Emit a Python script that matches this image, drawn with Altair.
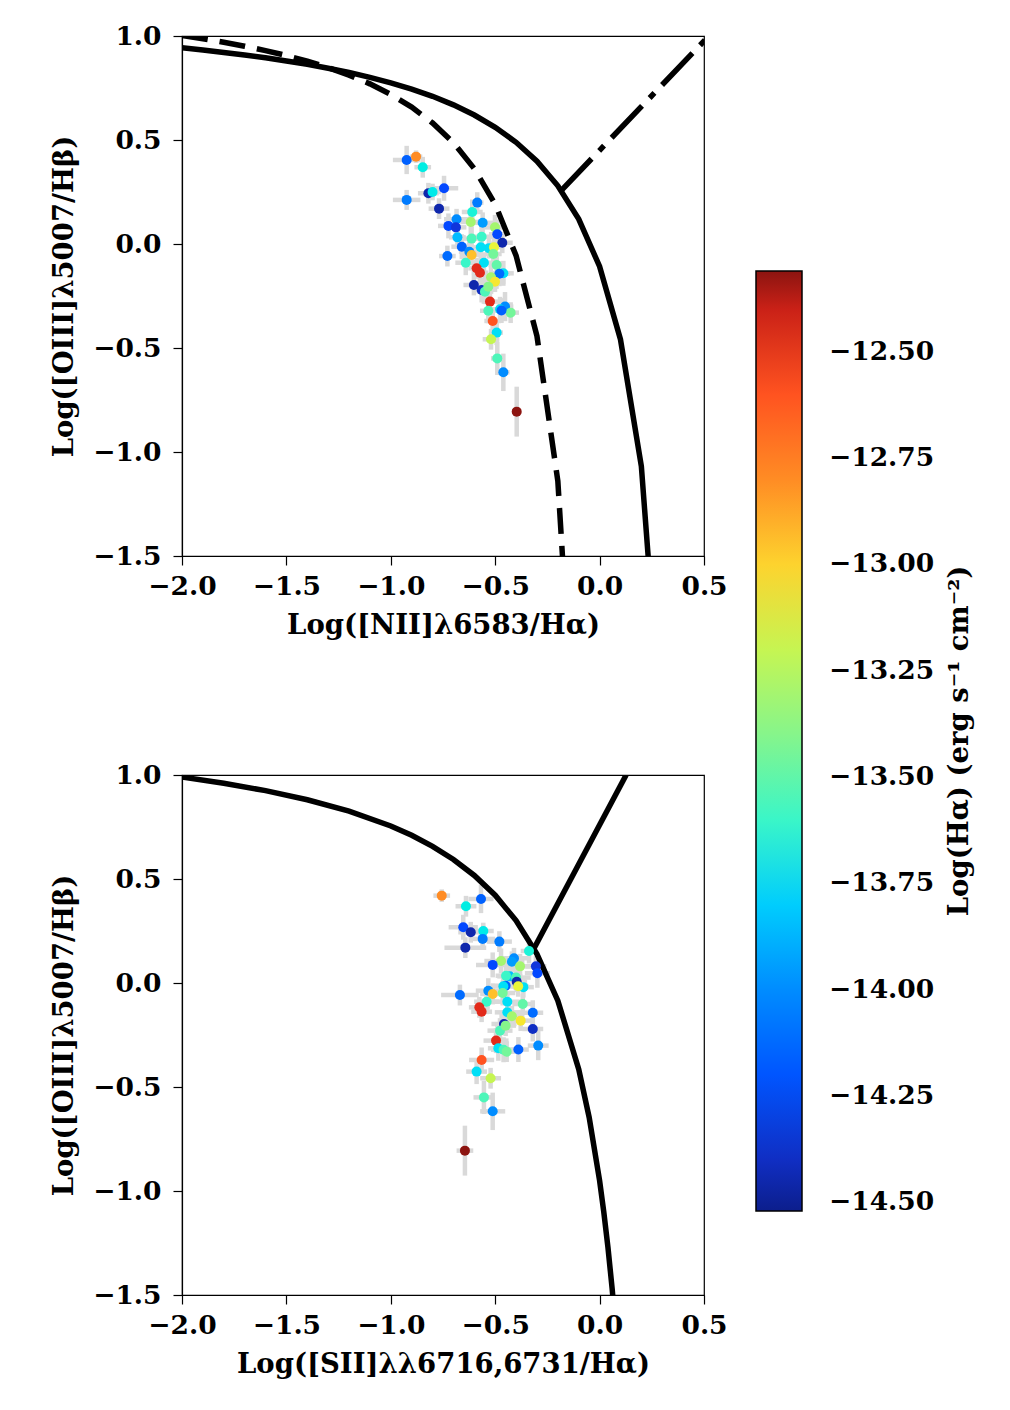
import altair as alt
import pandas as pd

# ---- data ----
nii = [-0.924, -0.879, -0.847, -0.745, -0.820, -0.800, -0.924, -0.769, -0.586, -0.610,
       -0.685, -0.617, -0.560, -0.724, -0.688, -0.501, -0.681, -0.613, -0.565, -0.490,
       -0.466, -0.660, -0.569, -0.530, -0.506, -0.729, -0.624, -0.613, -0.509, -0.641,
       -0.554, -0.493, -0.589, -0.573, -0.461, -0.480, -0.520, -0.501, -0.602, -0.565,
       -0.549, -0.533, -0.525, -0.453, -0.477, -0.533, -0.426, -0.470, -0.512, -0.493,
       -0.520, -0.490, -0.461, -0.397]
oiii = [0.404, 0.420, 0.369, 0.268, 0.244, 0.250, 0.212, 0.170, 0.199, 0.154,
        0.119, 0.106, 0.102, 0.087, 0.080, 0.080, 0.032, 0.026, 0.035, 0.047,
        0.006, -0.013, -0.016, -0.020, -0.016, -0.058, -0.037, -0.053, -0.048, -0.090,
        -0.090, -0.101, -0.117, -0.138, -0.141, -0.143, -0.160, -0.181, -0.197, -0.221,
        -0.229, -0.205, -0.277, -0.301, -0.314, -0.321, -0.330, -0.320, -0.370, -0.426,
        -0.458, -0.550, -0.617, -0.806]
sii = [-0.568, -0.756, -0.640, -0.653, -0.617, -0.557, -0.560, -0.643, -0.480, -0.338,
       -0.410, -0.472, -0.420, -0.512, -0.305, -0.381, -0.430, -0.400, -0.448, -0.298,
       -0.397, -0.450, -0.461, -0.365, -0.390, -0.669, -0.533, -0.512, -0.464, -0.541,
       -0.442, -0.368, -0.576, -0.565, -0.442, -0.320, -0.420, -0.378, -0.458, -0.320,
       -0.477, -0.450, -0.496, -0.294, -0.485, -0.460, -0.445, -0.389, -0.565, -0.589,
       -0.522, -0.554, -0.512, -0.645]
halpha = [-14.15, -12.80, -13.68, -14.25, -14.45, -13.70, -14.05, -14.45, -14.05, -13.65,
          -14.00, -13.30, -13.95, -14.25, -14.35, -13.30, -13.85, -13.55, -13.60, -14.25,
          -14.45, -14.15, -13.75, -13.75, -13.10, -14.10, -14.00, -12.95, -13.45, -13.60,
          -13.75, -13.50, -12.45, -12.45, -13.75, -14.10, -13.30, -13.05, -14.45, -14.40,
          -13.55, -13.40, -12.45, -14.00, -13.75, -13.55, -13.45, -14.15, -12.60, -13.75,
          -13.20, -13.55, -14.00, -12.31]
nii_err = [0.066, 0.03, 0.04, 0.068, 0.05, 0.04, 0.066, 0.05, 0.03, 0.05,
           0.06, 0.05, 0.06, 0.05, 0.05, 0.05, 0.04, 0.05, 0.05, 0.04,
           0.05, 0.05, 0.04, 0.04, 0.04, 0.04, 0.05, 0.05, 0.04, 0.05,
           0.05, 0.04, 0.04, 0.04, 0.05, 0.05, 0.04, 0.05, 0.05, 0.04,
           0.04, 0.05, 0.04, 0.04, 0.05, 0.04, 0.04, 0.04, 0.04, 0.03,
           0.04, 0.03, 0.03, 0.02]
oiii_err = [0.068, 0.03, 0.05, 0.06, 0.05, 0.04, 0.048, 0.05, 0.05, 0.06,
            0.05, 0.06, 0.05, 0.06, 0.05, 0.06, 0.05, 0.06, 0.05, 0.07,
            0.05, 0.06, 0.06, 0.05, 0.05, 0.05, 0.06, 0.05, 0.06, 0.06,
            0.05, 0.05, 0.05, 0.05, 0.06, 0.06, 0.05, 0.05, 0.05, 0.06,
            0.06, 0.05, 0.06, 0.07, 0.06, 0.06, 0.05, 0.06, 0.06, 0.06,
            0.05, 0.08, 0.09, 0.12]
sii_err = [0.06, 0.04, 0.05, 0.07, 0.06, 0.05, 0.06, 0.10, 0.06, 0.04,
           0.07, 0.08, 0.06, 0.08, 0.05, 0.05, 0.06, 0.07, 0.05, 0.06,
           0.05, 0.07, 0.05, 0.05, 0.05, 0.09, 0.06, 0.06, 0.06, 0.06,
           0.06, 0.05, 0.05, 0.05, 0.06, 0.05, 0.06, 0.06, 0.06, 0.05,
           0.06, 0.05, 0.06, 0.05, 0.05, 0.06, 0.05, 0.05, 0.06, 0.05,
           0.05, 0.05, 0.06, 0.04]

# demarcation curves
k01_nii_x = [-2.0, -1.9, -1.8, -1.7, -1.6, -1.5, -1.4, -1.3, -1.2, -1.1, -1.0, -0.9,
             -0.8, -0.7, -0.6, -0.5, -0.4, -0.3, -0.2, -0.1, 0.0, 0.1, 0.2, 0.3]
k01_nii_y = [0.943, 0.933, 0.921, 0.909, 0.895, 0.880, 0.864, 0.845, 0.825, 0.801, 0.775, 0.745,
             0.710, 0.669, 0.620, 0.561, 0.489, 0.398, 0.280, 0.120, -0.108, -0.459, -1.069, -2.398]
k03_x = [-2.0, -1.9, -1.8, -1.7, -1.6, -1.5, -1.4, -1.3, -1.2, -1.1, -1.0, -0.9,
         -0.8, -0.7, -0.6, -0.5, -0.4, -0.3, -0.2, -0.1]
k03_y = [1.002, 0.987, 0.970, 0.951, 0.930, 0.906, 0.879, 0.848, 0.812, 0.770, 0.719, 0.658,
         0.582, 0.487, 0.362, 0.191, -0.056, -0.443, -1.140, -2.767]
sey_nii_x = [-0.184, 0.55]
sey_nii_y = [0.257, 1.028]
k01_sii_x = [-2.0, -1.8, -1.6, -1.4, -1.2, -1.0, -0.9, -0.8, -0.7, -0.6, -0.5, -0.4,
             -0.3, -0.2, -0.1, -0.05, 0.0, 0.02, 0.04, 0.06, 0.08]
k01_sii_y = [0.990, 0.960, 0.925, 0.881, 0.826, 0.755, 0.710, 0.657, 0.594, 0.517, 0.422, 0.300,
             0.139, -0.085, -0.414, -0.646, -0.950, -1.100, -1.271, -1.469, -1.700]
sey_sii_x = [-0.315, 0.127]
sey_sii_y = [0.165, 1.0]

# colour bar (jet-like)
cb_domain = [-14.52, -14.277, -14.078, -13.857, -13.746, -13.636, -13.415, -13.194,
             -13.0835, -12.973, -12.752, -12.531, -12.42, -12.31]
cb_range = ["#0c1e8c", "#1040ff", "#0c70ff", "#08b8ff", "#00e0f5", "#2cf5d2", "#82f58f",
            "#c8f550", "#f0f535", "#ffc830", "#ff7a28", "#ff3a20", "#d82418", "#8c1410"]
cb_ticks = [-14.5, -14.25, -14.0, -13.75, -13.5, -13.25, -13.0, -12.75, -12.5]
cb_title = ["Log(H\u03b1) (erg s\u207b\u00b9 cm\u207b\u00b2)"]
axis_ticks = [-2.0, -1.5, -1.0, -0.5, 0.0, 0.5]
yaxis_ticks = [-1.5, -1.0, -0.5, 0.0, 0.5, 1.0]

df = pd.DataFrame({"nii": nii, "oiii": oiii, "sii": sii, "ha": halpha,
                   "nii_err": nii_err, "oiii_err": oiii_err, "sii_err": sii_err})

FONT = "DejaVu Serif"
LAB = 26.5
TIT = 27.5
MINUS = "replace(datum.label, '-', '\u2212')"

xs = alt.Scale(domain=[-2.0, 0.5], nice=False, zero=False)
ys = alt.Scale(domain=[-1.5, 1.0], nice=False, zero=False)

color = alt.Color(
    "ha:Q",
    scale=alt.Scale(domain=cb_domain, range=cb_range, zero=False, nice=False),
    legend=alt.Legend(
        orient="none", legendX=574, legendY=235, direction="vertical",
        gradientLength=940, gradientThickness=46,
        gradientStrokeColor="black", gradientStrokeWidth=1.5,
        values=cb_ticks, format=".2f", labelExpr=MINUS, labelOverlap=False,
        labelFont=FONT, labelFontSize=LAB, labelFontWeight="bold", labelColor="black",
        labelOffset=27, title=None,
    ),
)


def xaxis(title):
    return alt.Axis(title=title, values=axis_ticks, format=".1f", labelExpr=MINUS,
                    labelPadding=8, titlePadding=12, labelFlush=False)


def yaxis():
    return alt.Axis(title="Log([OIII]\u03bb5007/H\u03b2)", values=yaxis_ticks, format=".1f",
                    labelExpr=MINUS, labelPadding=12, titlePadding=14, labelFlush=False)


def curve(xv, yv, dash=None):
    cdf = pd.DataFrame({"cx": xv, "cy": yv, "i": list(range(len(xv)))})
    kw = dict(color="black", strokeWidth=5.5, clip=True)
    if dash:
        kw["strokeDash"] = dash
    return alt.Chart(cdf).mark_line(**kw).encode(
        x=alt.X("cx:Q", scale=xs), y=alt.Y("cy:Q", scale=ys), order="i:Q")


def panel(xf, xef, xtitle, lines, extra=()):
    base = alt.Chart(df)
    ax = xaxis(xtitle)
    ay = yaxis()
    errx = base.transform_calculate(
        lo=f"datum.{xf} - datum.{xef}", hi=f"datum.{xf} + datum.{xef}"
    ).mark_rule(color="#d9d9d9", strokeWidth=4.5).encode(
        x=alt.X("lo:Q", scale=xs, axis=ax), x2="hi:Q",
        y=alt.Y("oiii:Q", scale=ys, axis=ay))
    erry = base.transform_calculate(
        lo="datum.oiii - datum.oiii_err", hi="datum.oiii + datum.oiii_err"
    ).mark_rule(color="#d9d9d9", strokeWidth=4.5).encode(
        x=alt.X(f"{xf}:Q", scale=xs, axis=ax),
        y=alt.Y("lo:Q", scale=ys, axis=ay), y2="hi:Q")
    pts = base.mark_circle(size=100, opacity=1).encode(
        x=alt.X(f"{xf}:Q", scale=xs, axis=ax),
        y=alt.Y("oiii:Q", scale=ys, axis=ay),
        color=color)
    return alt.layer(errx, erry, *lines, pts, *extra).properties(width=522, height=520)


cbar_title = alt.Chart(pd.DataFrame({"t": cb_title})).mark_text(
    angle=270, font=FONT, fontSize=TIT, fontWeight="bold", color="black",
    align="center", baseline="middle"
).encode(text="t:N", x=alt.value(778), y=alt.value(-34))

top = panel("nii", "nii_err", "Log([NII]\u03bb6583/H\u03b1)", [
    curve(k01_nii_x, k01_nii_y),
    curve(k03_x, k03_y, [26, 12]),
    curve(sey_nii_x, sey_nii_y, [44, 11, 7, 11]),
])
bottom = panel("sii", "sii_err", "Log([SII]\u03bb\u03bb6716,6731/H\u03b1)", [
    curve(k01_sii_x, k01_sii_y),
    curve(sey_sii_x, sey_sii_y),
], extra=[cbar_title])

chart = alt.vconcat(top, bottom, spacing=219, bounds="flush").properties(
    padding={"left": 42, "top": 14, "right": 5, "bottom": 5}
).configure_view(stroke="black", strokeWidth=1.2).configure_axis(
    labelFont=FONT, labelFontSize=LAB, labelFontWeight="bold", labelColor="black",
    titleFont=FONT, titleFontSize=TIT, titleFontWeight="bold", titleColor="black",
    tickColor="black", tickSize=9, tickWidth=1.2, domainColor="black", domainWidth=1.2,
    grid=False,
)

chart.save("out.html", embed_options={"renderer": "svg", "actions": False})
